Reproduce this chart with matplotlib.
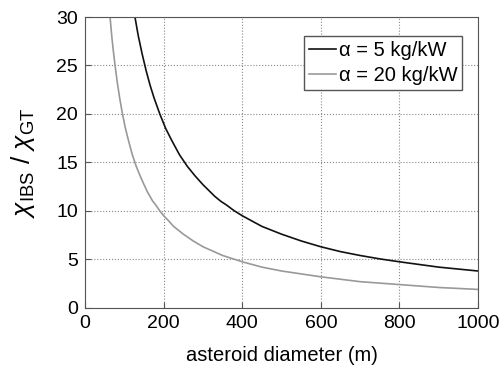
import matplotlib
matplotlib.use("Agg")
import matplotlib.pyplot as plt

# values
diam_5 = [125, 135, 145, 155, 165, 175, 190, 205, 220, 240, 260, 280, 300, 315, 330, 345,
          360, 380, 400, 425, 450, 475, 500, 550, 600, 650, 700, 750, 800, 900, 1000]
ratio_5 = [30.4, 28.1, 26.2, 24.5, 23.0, 21.7, 20.0, 18.5, 17.3, 15.8, 14.6, 13.6, 12.7,
           12.1, 11.5, 11.0, 10.6, 10.0, 9.5, 8.95, 8.4, 8.0, 7.6, 6.9, 6.3, 5.8, 5.4,
           5.05, 4.75, 4.2, 3.8]

diam_20 = [62, 68, 72, 77, 82, 88, 95, 102, 110, 120, 130, 140, 150, 158, 165, 172, 180,
           190, 200, 212, 225, 250, 275, 300, 350, 400, 450, 500, 600, 700, 800, 900, 1000]
ratio_20 = [30.6, 27.9, 26.4, 24.7, 23.2, 21.6, 20.0, 18.6, 17.3, 15.8, 14.6, 13.6, 12.7,
            12.0, 11.5, 11.0, 10.6, 10.0, 9.5, 9.0, 8.4, 7.6, 6.9, 6.3, 5.4, 4.75, 4.2,
            3.8, 3.2, 2.7, 2.4, 2.1, 1.9]

labels = ["\u03b1 = 5 kg/kW", "\u03b1 = 20 kg/kW"]

plt.rcParams["font.family"] = ["Liberation Sans", "DejaVu Sans"]
plt.rcParams["mathtext.fontset"] = "custom"
plt.rcParams["mathtext.rm"] = "Liberation Sans"
plt.rcParams["mathtext.it"] = "Liberation Sans:italic"

fig = plt.figure(figsize=(5.01, 3.70), dpi=100)
ax = fig.add_axes([0.170, 0.168, 0.784, 0.786])

ax.plot(diam_5, ratio_5, color="#111111", lw=1.2, label=labels[0])
ax.plot(diam_20, ratio_20, color="#999999", lw=1.2, label=labels[1])

ax.set_xlim(0, 1000)
ax.set_ylim(0, 30)
ax.set_xticks(range(0, 1001, 200))
ax.set_yticks(range(0, 31, 5))
ax.grid(True, ls=":", color="#888888", lw=0.8)
ax.tick_params(labelsize=14, direction="in", length=4, color="#555555", pad=5)
for s in ax.spines.values():
    s.set_color("#555555")

ax.set_xlabel("asteroid diameter (m)", fontsize=14.5, labelpad=10)
ax.set_ylabel(r"$\chi_{\mathrm{IBS}}\ /\ \chi_{\mathrm{GT}}$", fontsize=19, labelpad=14)

leg = ax.legend(loc="upper right", fontsize=14.5, fancybox=False, framealpha=1,
                edgecolor="#555555", handlelength=1.3, handletextpad=0.15,
                borderpad=0.25, labelspacing=0.3, borderaxespad=0,
                bbox_to_anchor=(0.96, 0.935))

fig.savefig("out.png", dpi=100)
